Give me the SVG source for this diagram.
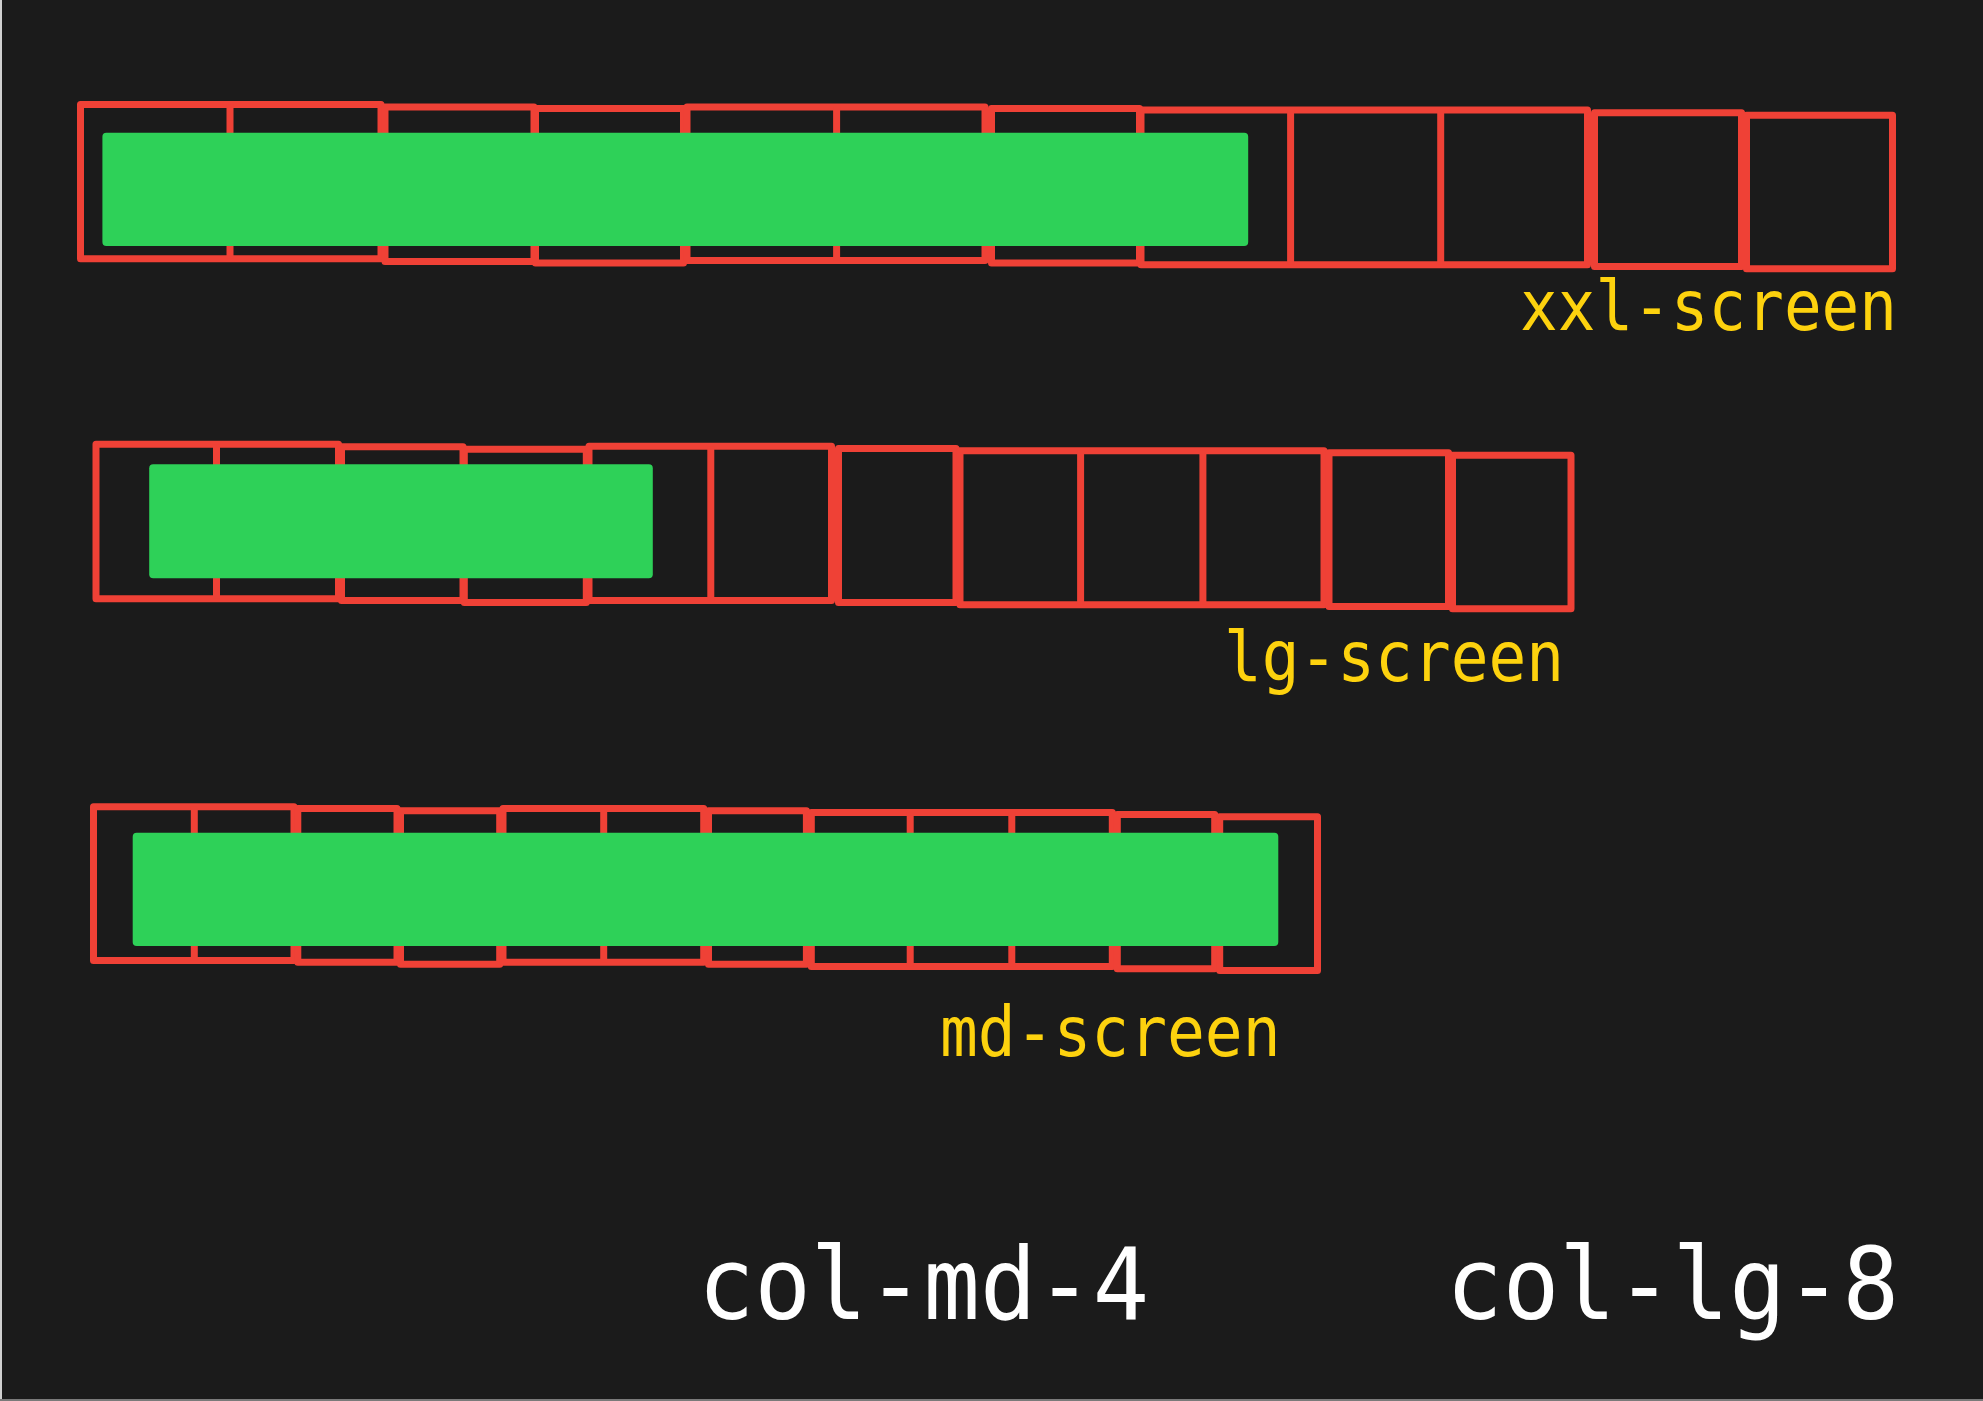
<svg xmlns="http://www.w3.org/2000/svg" width="1983" height="1401" viewBox="0 0 1983 1401">
  <style>
    .cell { fill: none; stroke: #ef4136; stroke-width: 7; stroke-linejoin: round; }
    .div { stroke: #ef4136; stroke-width: 7; }
    .bar { fill: #2ed158; }
    .label { font-family: "DejaVu Sans Mono", "Liberation Mono", monospace; font-size: 69px; fill: #fdd20e; }
    .code { font-family: "DejaVu Sans Mono", "Liberation Mono", monospace; font-size: 100px; fill: #ffffff; }
  </style>
  <rect x="0" y="0" width="1983" height="1401" fill="#1b1b1b"/>
  <rect x="0" y="0" width="2" height="1401" fill="#d0d0d0"/>
  <rect x="0" y="1399" width="1983" height="2" fill="#7a7a7a"/>

  <!-- xxl row: 12 columns, bar spans 8 -->
  <g id="xxl-grid">
    <rect class="cell" x="80.5" y="104.5" width="300.5" height="154.3"/>
    <line class="div" x1="230" y1="104.5" x2="230" y2="258.8"/>
    <rect class="cell" x="385" y="107" width="149" height="154.5"/>
    <rect class="cell" x="535.5" y="108.5" width="148" height="154.5"/>
    <rect class="cell" x="687" y="107" width="298" height="153.5"/>
    <line class="div" x1="836.6" y1="107" x2="836.6" y2="260.5"/>
    <rect class="cell" x="991.5" y="108.5" width="148" height="154.5"/>
    <rect class="cell" x="1141" y="110" width="446.5" height="154.8"/>
    <line class="div" x1="1290.6" y1="110" x2="1290.6" y2="264.8"/>
    <line class="div" x1="1440.7" y1="110" x2="1440.7" y2="264.8"/>
    <rect class="cell" x="1594.5" y="112.8" width="147" height="153.7"/>
    <rect class="cell" x="1746.5" y="115.2" width="146" height="153.6"/>
  </g>
  <g id="xxl-bar">
    <rect class="bar" x="102.4" y="132.7" width="1145.8" height="113.3" rx="4"/>
  </g>
  <g id="xxl-label">
    <text class="label" x="1520" y="329.5" textLength="377" lengthAdjust="spacingAndGlyphs">xxl-screen</text>
  </g>

  <!-- lg row: 12 columns, bar spans 4 -->
  <g id="lg-grid">
    <rect class="cell" x="96" y="444.2" width="242.5" height="154.6"/>
    <line class="div" x1="216.5" y1="444.2" x2="216.5" y2="598.8"/>
    <rect class="cell" x="341.5" y="446.8" width="121.5" height="153.7"/>
    <rect class="cell" x="464.3" y="449.2" width="122" height="153.3"/>
    <rect class="cell" x="589" y="446.2" width="242.5" height="154.3"/>
    <line class="div" x1="710.8" y1="446.2" x2="710.8" y2="600.5"/>
    <rect class="cell" x="838.5" y="448.5" width="117.5" height="154"/>
    <rect class="cell" x="960" y="450.8" width="364" height="154"/>
    <line class="div" x1="1080.6" y1="450.8" x2="1080.6" y2="604.8"/>
    <line class="div" x1="1202.9" y1="450.8" x2="1202.9" y2="604.8"/>
    <rect class="cell" x="1329" y="452.8" width="119.5" height="153.7"/>
    <rect class="cell" x="1452.5" y="455.2" width="118.5" height="153.6"/>
  </g>
  <g id="lg-bar">
    <rect class="bar" x="149.2" y="464.3" width="503.6" height="114" rx="4"/>
  </g>
  <g id="lg-label">
    <text class="label" x="1224" y="680.5" textLength="340" lengthAdjust="spacingAndGlyphs">lg-screen</text>
  </g>

  <!-- md row: 12 columns, bar spans all -->
  <g id="md-grid">
    <rect class="cell" x="93.5" y="806.8" width="200.5" height="153.7"/>
    <line class="div" x1="194.3" y1="806.8" x2="194.3" y2="960.5"/>
    <rect class="cell" x="297.8" y="808.5" width="99.2" height="153.7"/>
    <rect class="cell" x="400.5" y="810.8" width="99.2" height="153.4"/>
    <rect class="cell" x="503" y="808.5" width="200.7" height="153.7"/>
    <line class="div" x1="603.7" y1="808.5" x2="603.7" y2="962.2"/>
    <rect class="cell" x="708.5" y="810.8" width="97.9" height="153.4"/>
    <rect class="cell" x="811.3" y="812.5" width="301" height="154"/>
    <line class="div" x1="910.2" y1="812.5" x2="910.2" y2="966.5"/>
    <line class="div" x1="1011.8" y1="812.5" x2="1011.8" y2="966.5"/>
    <rect class="cell" x="1117.3" y="814.5" width="97.4" height="154.3"/>
    <rect class="cell" x="1219.7" y="816.8" width="97.8" height="153.7"/>
  </g>
  <g id="md-bar">
    <rect class="bar" x="132.7" y="832.7" width="1145.6" height="113.3" rx="4"/>
  </g>
  <g id="md-label">
    <text class="label" x="940" y="1055.5" textLength="340.5" lengthAdjust="spacingAndGlyphs">md-screen</text>
  </g>

  <!-- class names -->
  <g id="class-md">
    <text class="code" x="698" y="1319" textLength="451" lengthAdjust="spacingAndGlyphs">col-md-4</text>
  </g>
  <g id="class-lg">
    <text class="code" x="1446" y="1319" textLength="453" lengthAdjust="spacingAndGlyphs">col-lg-8</text>
  </g>
</svg>
